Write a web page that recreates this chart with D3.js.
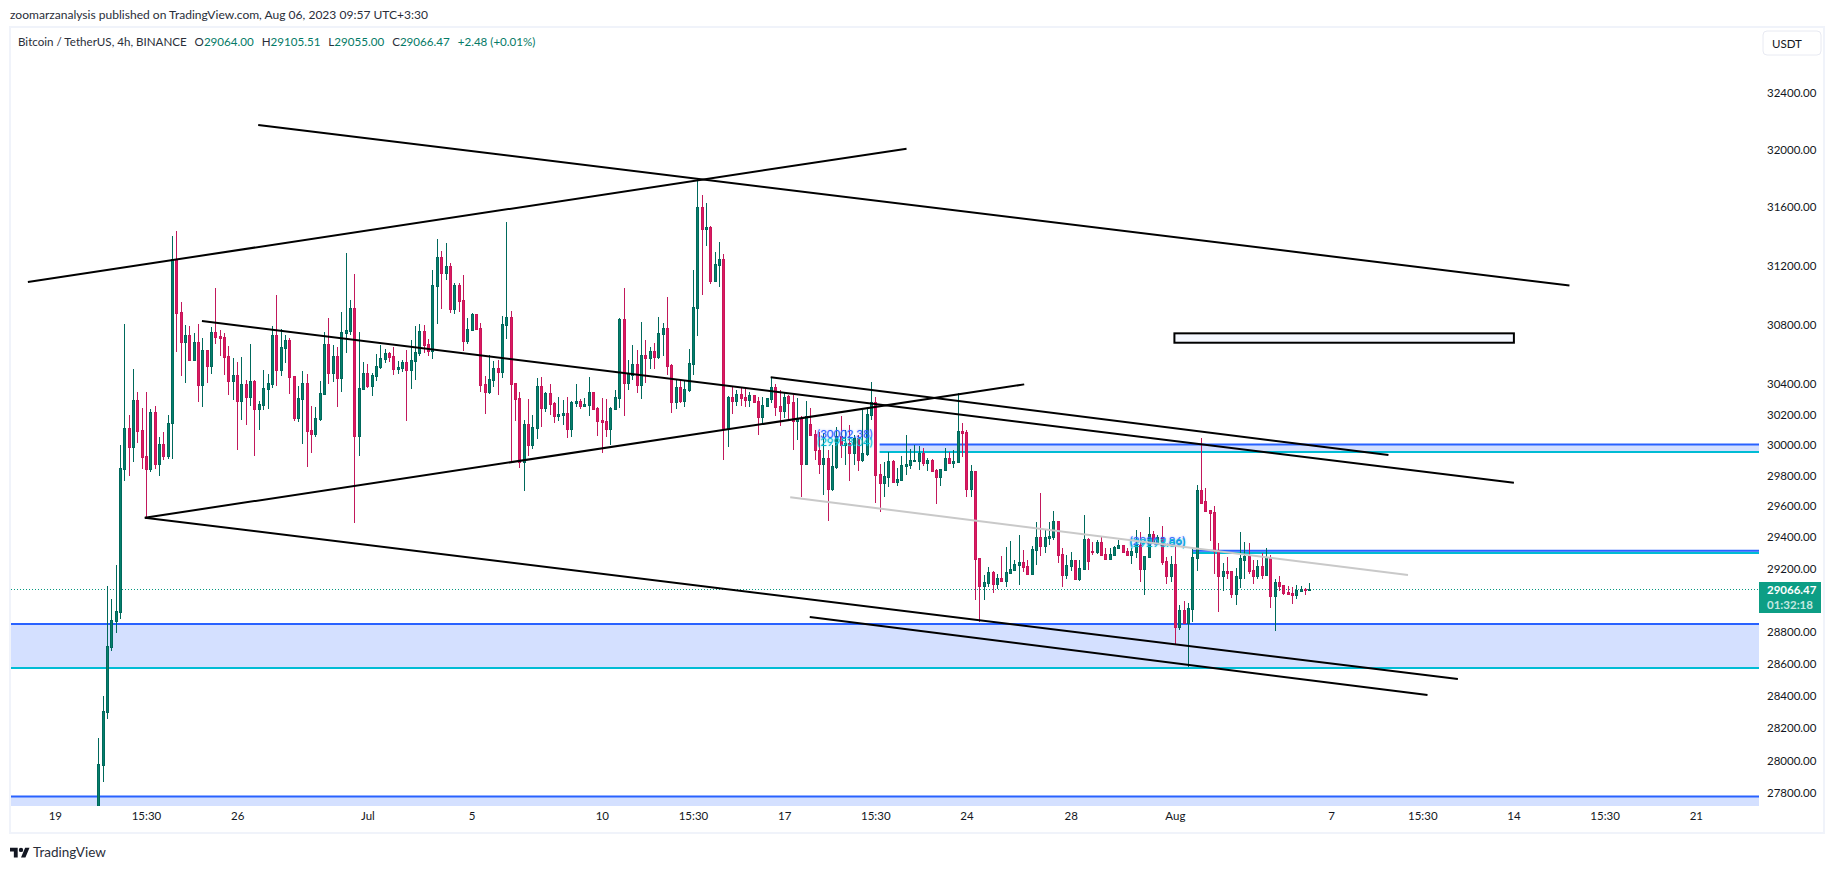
<!DOCTYPE html>
<html>
<head>
<meta charset="utf-8">
<title>BTCUSDT 4h</title>
<style>
    html, body { margin: 0; padding: 0; background: #fff; }
    svg { display: block; }
    text { font-family: Lato, "Noto Sans", sans-serif; fill: #131722; }
    .axis text { font-size: 11.5px; }
    .axis path { display: none; }
    .zone-label { font-size: 11.5px; }
</style>
</head>
<body>
<svg id="chart" width="1835" height="869"></svg>
<script src="https://d3js.org/d3.v7.min.js"></script>
<script>
// 4h candles, first bar is Jun 20 19:30 (UTC+3:30 chart time)
var firstBar = Date.UTC(2023, 5, 20, 19, 30);

var opens = [
    27700,27975,28300,28705,28868,28926,29844,30109,29988,30295,
    30097,29927,29844,30216,29877,30005,29927,30144,31241,30884,
    30685,30729,30562,30682,30396,30629,30522,30749,30722,30716,
    30589,30422,30462,30289,30402,30316,30422,30236,30262,30369,
    30402,30729,30496,30642,30696,30456,30176,30302,30409,30097,
    30071,30169,30336,30669,30476,30589,30442,30742,30756,30911,
    30057,30369,30476,30389,30456,30516,30569,30609,30589,30502,
    30509,30549,30496,30556,30609,30756,30669,30622,31060,31257,
    31148,31195,30904,31067,30965,30689,30762,30870,30776,30402,
    30349,30429,30509,30483,30796,30850,30409,30309,29887,30137,
    30000,30110,30389,30243,30343,30276,30189,30196,30210,30104,
    30276,30289,30256,30263,30349,30243,30163,30156,30104,30236,
    30309,30836,30409,30463,30536,30396,30596,30576,30623,30583,
    30736,30776,30529,30283,30383,30289,30363,30536,30911,31602,
    31446,31460,31094,31202,31243,30110,30316,30289,30336,30316,
    30296,30329,30289,30182,30256,30303,30383,30256,30223,30323,
    30283,30156,30176,29874,30137,30071,29966,29874,29913,29709,
    29854,30058,30000,30012,29946,30045,29900,29939,30196,30283,
    29808,29749,29788,29893,29755,29768,29860,29867,29893,29893,
    29946,29880,29900,29834,29788,29834,29913,29880,29887,30090,
    30084,29709,29827,29270,29091,29110,29180,29104,29142,29123,
    29174,29193,29225,29244,29219,29167,29321,29404,29346,29397,
    29404,29506,29295,29161,29219,29257,29136,29199,29391,29312,
    29308,29372,29295,29263,29289,29334,29353,29314,29289,29308,
    29353,29199,29276,29423,29366,29404,29250,29155,29231,28829,
    28937,28854,28944,29270,29703,29631,29577,29564,29321,29149,
    29187,29181,29040,29142,29257,29283,29193,29155,29213,29161,
    29276,29027,29117,29098,29053,29046,29034,29059,29072,29064
];
var highs = [
    28140,28395,29090,29005,29222,30000,30803,30196,30500,30346,
    30240,30346,30236,30256,30051,30084,30196,31400,31433,30951,
    30796,30789,30740,30800,30707,30629,30785,31046,30762,30742,
    30656,30576,30549,30582,30429,30669,30429,30289,30496,30469,
    30789,30999,30769,30729,30709,30456,30389,30489,30469,30256,
    30249,30422,30749,30843,30662,30649,30884,31284,30965,31141,
    30749,30549,30536,30476,30602,30662,30636,30616,30649,30556,
    30562,30629,30696,30789,30802,30796,30702,31168,31379,31297,
    31351,31216,31080,31080,31134,30843,30877,30870,30809,30456,
    30596,30556,30562,30856,31500,30890,30409,30347,30163,30303,
    30193,30441,30450,30349,30403,30283,30316,30296,30316,30289,
    30403,30303,30309,30450,30349,30250,30309,30303,30250,30363,
    30843,31046,30563,30663,30629,30816,30696,30649,30676,30850,
    30809,30985,30536,30429,30429,30429,30636,31168,31799,31683,
    31629,31467,31290,31358,31277,30323,30389,30363,30376,30370,
    30349,30329,30316,30316,30309,30443,30403,30363,30343,30329,
    30329,30309,30189,30289,30243,30097,30084,30075,29966,30000,
    30119,30189,30097,30130,30064,30064,30229,30243,30416,30314,
    29874,29887,29953,29900,29847,29926,30064,29972,29996,29992,
    29979,29913,29906,29841,29841,29979,29952,29965,30344,30143,
    30097,29867,29827,29270,29161,29212,29187,29167,29282,29340,
    29378,29257,29417,29321,29257,29346,29500,29689,29449,29500,
    29570,29506,29334,29289,29308,29257,29257,29544,29397,29372,
    29385,29410,29334,29334,29346,29385,29353,29334,29334,29449,
    29436,29282,29532,29442,29417,29474,29276,29282,29346,28969,
    28995,28982,29334,29736,30044,29716,29577,29602,29366,29232,
    29276,29187,29200,29436,29372,29360,29257,29257,29296,29334,
    29289,29130,29155,29098,29091,29085,29098,29091,29078,29105.51
];
var lows = [
    27650,27870,28255,28680,28790,28877,29766,29798,29890,30014,
    29844,29528,29824,29844,29798,29900,29910,29910,30616,30456,
    30411,30556,30556,30282,30251,30411,30469,30669,30589,30462,
    30329,30296,29966,30163,30130,30256,29926,30097,30229,30236,
    30374,30385,30456,30540,30336,30156,30149,30005,29854,29946,
    30051,30156,30336,30402,30416,30249,30349,30609,30729,29492,
    29926,30363,30376,30322,30422,30502,30542,30549,30462,30469,
    30482,30156,30369,30429,30589,30609,30589,30569,30802,30904,
    31101,30877,30870,30884,30622,30669,30758,30762,30349,30202,
    30336,30382,30329,30443,30703,29887,30156,29847,29696,29926,
    29972,30038,30117,30216,30196,30143,30156,30130,30045,30051,
    30250,30236,30247,30189,30229,30058,29946,30051,30000,30236,
    30243,30189,30363,30429,30343,30303,30409,30503,30503,30570,
    30585,30463,30210,30236,30276,30250,30349,30463,30723,30999,
    31331,31073,31087,31053,29900,29985,30203,30256,30256,30250,
    30250,30276,30064,30130,30256,30276,30189,30123,30176,30170,
    29966,30031,29657,29874,30064,29900,29808,29670,29506,29696,
    29841,29913,29867,29762,29867,29828,29887,29926,30163,29624,
    29565,29663,29723,29749,29729,29768,29801,29841,29893,29834,
    29860,29827,29821,29617,29729,29834,29880,29847,29887,29919,
    29663,29657,29001,28861,29001,29084,29046,29072,29123,29084,
    29174,29187,29097,29180,29161,29167,29225,29282,29302,29353,
    29385,29238,29084,29136,29187,29136,29123,29193,29193,29289,
    29295,29289,29257,29263,29289,29334,29308,29282,29231,29270,
    29116,29033,29270,29359,29359,29225,29104,29116,28714,28810,
    28854,28580,28861,29181,29617,29564,29379,29168,28925,29059,
    29130,29014,28970,29078,29136,29168,29104,29136,29136,29161,
    28951,28804,29059,29034,29040,28976,29008,29053,29034,29055
];
var closes = [
    27980,28305,28710,28875,28930,29846,30109,29988,30295,30093,
    29922,29844,30216,29877,30005,29927,30144,31241,30879,30685,
    30729,30562,30682,30396,30629,30522,30749,30716,30709,30582,
    30422,30462,30289,30402,30316,30422,30236,30269,30376,30409,
    30729,30496,30649,30696,30449,30176,30309,30409,30090,30071,
    30176,30342,30669,30476,30589,30442,30749,30762,30911,30057,
    30376,30476,30389,30462,30522,30576,30609,30582,30502,30516,
    30549,30496,30562,30616,30756,30662,30622,31067,31257,31148,
    31195,30904,31067,30958,30689,30769,30870,30769,30396,30349,
    30436,30509,30482,30802,30850,30403,30303,29887,30137,30000,
    30117,30389,30243,30343,30269,30189,30203,30210,30104,30283,
    30289,30256,30269,30349,30236,30156,30150,30104,30243,30316,
    30836,30409,30476,30536,30396,30596,30576,30623,30583,30743,
    30776,30523,30283,30383,30289,30370,30543,30917,31602,31446,
    31460,31094,31209,31243,30110,30316,30289,30336,30309,30296,
    30329,30283,30182,30263,30309,30383,30250,30223,30316,30276,
    30156,30176,29874,30189,30064,29966,29874,29913,29709,29861,
    30058,30000,30012,29946,30045,29900,29946,30203,30283,29801,
    29749,29795,29893,29755,29775,29867,29873,29900,29900,29946,
    29880,29900,29827,29788,29841,29913,29880,29893,30090,30077,
    29709,29827,29263,29091,29116,29180,29104,29142,29123,29180,
    29199,29231,29244,29212,29167,29327,29404,29346,29404,29410,
    29506,29289,29161,29225,29257,29136,29206,29391,29250,29306,
    29372,29289,29263,29295,29340,29353,29308,29289,29314,29353,
    29199,29282,29423,29366,29404,29244,29155,29231,28829,28937,
    28854,28950,29276,29703,29624,29570,29558,29315,29149,29187,
    29174,29040,29149,29264,29283,29187,29155,29213,29161,29276,
    29027,29117,29091,29046,29040,29034,29066,29072,29066,29066.47
];

var priceTicks = [32400,32000,31600,31200,30800,30400,30200,30000,29800,29600,29400,29200,
                  28800,28600,28400,28200,28000,27800];
var timeTickDates = ["2023-06-19T03:30","2023-06-22T15:30","2023-06-26T03:30","2023-07-01T03:30",
                     "2023-07-05T03:30","2023-07-10T03:30","2023-07-13T15:30","2023-07-17T03:30",
                     "2023-07-20T15:30","2023-07-24T03:30","2023-07-28T03:30","2023-08-01T03:30",
                     "2023-08-07T03:30","2023-08-10T15:30","2023-08-14T03:30","2023-08-17T15:30",
                     "2023-08-21T03:30"];
var timeTickLabels = ["19","15:30","26","Jul","5","10","15:30","17","15:30","24","28","Aug","7","15:30","14","15:30","21"];

// trend lines, as bar number and price of both ends
var lineBars = [[36.85,338.9],[-16.2,186.2],[23.9,326.1],[154.9,297.2],[10.73,213.3],[10.73,313.2],[163.9,306.2]];
var linePrices = [[32172,31063],[31087,32006],[30823,29752],[30446,29933],[29526,30399],[29526,28503],[28892,28403]];
var greyLineBars = [159.4,301.7];
var greyLinePrices = [29658,29158];

var boxBars = [247.9,326.1];
var boxPrices = [30740,30677];

// shaded zones, start bar null means the zone runs from the left edge
var zoneStartBars = [180,252,null,null];
var zoneTopPrices = [30002.38,29312.86,28848,27780];
var zoneBottomPrices = [29953.04,29298.89,28572,27500];
var zoneLabelsTop = ["(30002.38)","(29312.86)"];
var zoneLabelsBottom = ["(29953.04)","(29298.89)"];

var lastPrice = 29066.47;
var countdown = "01:32:18";
var legendPrices = [["O","29064.00"],["H","29105.51"],["L","29055.00"],["C","29066.47"]];

var left = 11, right = 1759, top_ = 28, bottom = 806;
var FOUR_H = 4 * 3600 * 1000;

var svg = d3.select("#chart");

var x = d3.scaleUtc()
    .domain([new Date("2023-06-19T03:30Z"), new Date("2023-08-21T03:30Z")])
    .range([54.8, 1695.8]);
var y = d3.scaleLog()
    .domain([32400, 27800])
    .range([92.7, 793.3]);

function xBar(i) { return x(new Date(firstBar + i * FOUR_H)); }

// frame
svg.append("rect").attr("x", 10).attr("y", 27).attr("width", 1814).attr("height", 806)
    .attr("fill", "#fff").attr("stroke", "#f0f3fa").attr("stroke-width", 2);

svg.append("clipPath").attr("id", "plot")
    .append("rect").attr("x", left).attr("y", top_).attr("width", right - left).attr("height", bottom - top_);

var plot = svg.append("g").attr("clip-path", "url(#plot)");

// zones under the candles
zoneStartBars.forEach(function(b, i) {
    var x0 = b === null ? left : xBar(b);
    plot.append("rect")
        .attr("x", x0).attr("width", right - x0)
        .attr("y", y(zoneTopPrices[i])).attr("height", y(zoneBottomPrices[i]) - y(zoneTopPrices[i]))
        .attr("fill", "#d4e0ff");
    plot.append("line").attr("x1", x0).attr("x2", right)
        .attr("y1", y(zoneTopPrices[i])).attr("y2", y(zoneTopPrices[i]))
        .attr("stroke", "#2962ff").attr("stroke-width", 2);
    plot.append("line").attr("x1", x0).attr("x2", right)
        .attr("y1", y(zoneBottomPrices[i])).attr("y2", y(zoneBottomPrices[i]))
        .attr("stroke", "#00bcd4").attr("stroke-width", 2);
});

// last price line
plot.append("line").attr("x1", left).attr("x2", right)
    .attr("y1", Math.round(y(lastPrice)) + 0.5).attr("y2", Math.round(y(lastPrice)) + 0.5)
    .attr("stroke", "#089981").attr("stroke-width", 1).attr("stroke-dasharray", "1 2");

// candles
var candles = plot.append("g").attr("shape-rendering", "crispEdges")
    .selectAll("g").data(d3.range(opens.length)).enter().append("g");

function isUp(i) { return closes[i] >= opens[i]; }

candles.append("line")
    .attr("x1", function(i) { return Math.round(xBar(i)) + 0.5; })
    .attr("x2", function(i) { return Math.round(xBar(i)) + 0.5; })
    .attr("y1", function(i) { return Math.round(y(highs[i])); })
    .attr("y2", function(i) { return Math.round(y(lows[i])); })
    .attr("stroke", function(i) { return isUp(i) ? "#00695c" : "#c2185b"; });

candles.append("rect")
    .attr("x", function(i) { return Math.round(xBar(i)) - 0.5; })
    .attr("width", 2)
    .attr("y", function(i) { return Math.round(y(Math.max(opens[i], closes[i]))) + 0.5; })
    .attr("height", function(i) { return Math.max(1, Math.round(y(Math.min(opens[i], closes[i]))) - Math.round(y(Math.max(opens[i], closes[i])))); })
    .attr("fill", function(i) { return isUp(i) ? "#067f6c" : "#dc1a60"; })
    .attr("stroke", function(i) { return isUp(i) ? "#00695c" : "#c8155a"; });

// zone labels
zoneLabelsTop.forEach(function(label, i) {
    var xe = xBar(zoneStartBars[i]) - 7;
    plot.append("text").attr("class", "zone-label").attr("x", xe).attr("y", y(zoneTopPrices[i]) - 6)
        .attr("text-anchor", "end").style("fill", "#2962ff").style("text-shadow", "0 0 2px #2962ff80").text(label);
    plot.append("text").attr("class", "zone-label").attr("x", xe).attr("y", y(zoneBottomPrices[i]) - 6)
        .attr("text-anchor", "end").style("fill", "#00bcd4").style("text-shadow", "0 0 2px #00bcd480").text(zoneLabelsBottom[i]);
});

// drawings on top
plot.append("line")
    .attr("x1", xBar(greyLineBars[0])).attr("y1", y(greyLinePrices[0]))
    .attr("x2", xBar(greyLineBars[1])).attr("y2", y(greyLinePrices[1]))
    .attr("stroke", "#c9c9c9").attr("stroke-width", 2);

plot.selectAll(".trend").data(d3.range(lineBars.length)).enter().append("line")
    .attr("class", "trend")
    .attr("x1", function(i) { return xBar(lineBars[i][0]); })
    .attr("y1", function(i) { return y(linePrices[i][0]); })
    .attr("x2", function(i) { return xBar(lineBars[i][1]); })
    .attr("y2", function(i) { return y(linePrices[i][1]); })
    .attr("stroke", "#000").attr("stroke-width", 2);

plot.append("rect")
    .attr("x", xBar(boxBars[0])).attr("width", xBar(boxBars[1]) - xBar(boxBars[0]))
    .attr("y", y(boxPrices[0])).attr("height", y(boxPrices[1]) - y(boxPrices[0]))
    .attr("fill", "#f5f8ff").attr("stroke", "#000").attr("stroke-width", 2);

// axes
var yAxis = d3.axisRight(y).tickValues(priceTicks).tickFormat(d3.format(".2f")).tickSize(0).tickPadding(8);
svg.append("g").attr("class", "axis").attr("transform", "translate(" + right + ",0)").call(yAxis);

var xAxis = d3.axisBottom(x)
    .tickValues(timeTickDates.map(function(d) { return new Date(d + "Z"); }))
    .tickFormat(function(d, i) { return timeTickLabels[i]; })
    .tickSize(0).tickPadding(6);
svg.append("g").attr("class", "axis").attr("transform", "translate(0," + bottom + ")").call(xAxis);

// last price tag
var tagY = y(lastPrice);
svg.append("rect").attr("x", right).attr("y", 582).attr("width", 62).attr("height", 31).attr("fill", "#0d9e85");
svg.append("text").attr("x", right + 8).attr("y", tagY + 4.5).style("fill", "#fff")
    .style("font-size", "11.5px").style("font-weight", 700).text(d3.format(".2f")(lastPrice));
svg.append("text").attr("x", right + 8).attr("y", tagY + 19.5).style("fill", "#c4e8e0")
    .style("font-size", "11.5px").style("font-weight", 700).text(countdown);

// scale mode button
svg.append("rect").attr("x", 1763).attr("y", 31).attr("width", 58).attr("height", 24).attr("rx", 4)
    .attr("fill", "#fff").attr("stroke", "#e8eaf2");
svg.append("text").attr("x", 1772).attr("y", 48).style("font-size", "11.5px").text("USDT");

// header lines
svg.append("text").attr("x", 10).attr("y", 19).style("font-size", "12.05px").style("fill", "#2a2e39")
    .text("zoomarzanalysis published on TradingView.com, Aug 06, 2023 09:57 UTC+3:30");
var legend = svg.append("text").attr("x", 18).attr("y", 46).style("font-size", "11.6px");
legend.append("tspan").text("Bitcoin / TetherUS, 4h, BINANCE").style("fill", "#2a2e39");
legendPrices.forEach(function(d) {
    legend.append("tspan").attr("dx", 8).text(d[0]).style("fill", "#2a2e39");
    legend.append("tspan").text(d[1]).style("fill", "#047a66");
});
legend.append("tspan").attr("dx", 8).text("+2.48 (+0.01%)").style("fill", "#047a66");

// logo
var logo = svg.append("g").attr("transform", "translate(10,845.5) scale(0.55)").attr("fill", "#131722");
logo.append("path").attr("d", "M14 22H7V11H0V4h14v18zM28 22h-8l7.5-18h8L28 22z");
logo.append("circle").attr("cx", 20).attr("cy", 8).attr("r", 4);
svg.append("text").attr("x", 33).attr("y", 857).style("font-size", "13.5px").style("fill", "#2a2e39").text("TradingView");
</script>
</body>
</html>
